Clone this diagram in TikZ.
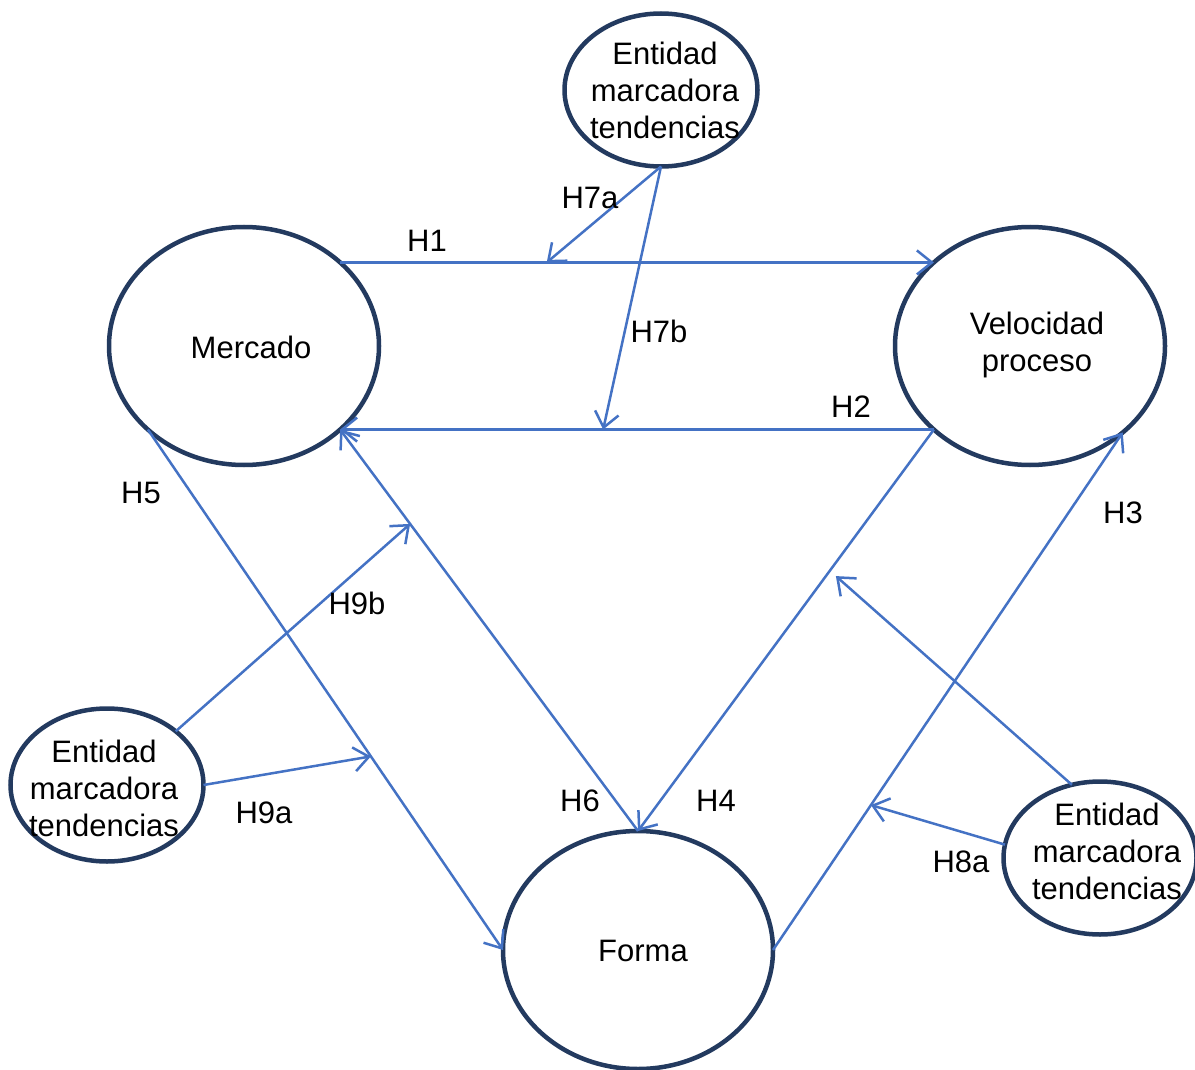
\documentclass[tikz,border=0pt]{standalone}
\usepackage{fontspec}
\setmainfont{Liberation Sans}
\usetikzlibrary{arrows.meta,shapes.geometric,calc}
\definecolor{conn}{RGB}{68,114,196}
\definecolor{rim}{RGB}{35,58,95}
\begin{document}
\begin{tikzpicture}[x=1pt,y=-1pt,
  oval/.style={ellipse, draw=rim, line width=4.5pt, inner sep=0pt, outer sep=0pt},
  big/.style={oval, minimum width=270pt, minimum height=238pt},
  small/.style={oval, minimum width=193pt, minimum height=153pt},
  txt/.style={font=\fontsize{31}{37}\selectfont, align=center, inner sep=0pt},
  lbl/.style={font=\fontsize{31}{37}\selectfont, inner sep=0pt},
  link/.style={draw=conn, line width=2.5pt, -{Straight Barb[length=15pt,width=24pt,line width=2.5pt]}}]
\useasboundingbox (0,0) rectangle (1195,1070);
% ellipses
\node[small] (top) at (661,90) {};
\node[big] (merc) at (244,346) {};
\node[big] (velo) at (1030,346) {};
\node[big] (forma) at (638,950) {};
\node[small] (lent) at (107,785) {};
\node[small] (rent) at (1100,858) {};
% texts
\node[txt] (toptxt) at (665,90) {Entidad\\marcadora\\tendencias};
\node[txt] (merctxt) at (251,347) {Mercado};
\node[txt] (velotxt) at (1037,345) {Velocidad\\proceso};
\node[txt] (formatxt) at (643,951) {Forma};
\node[txt] (lenttxt) at (104,788) {Entidad\\marcadora\\tendencias};
\node[txt] (renttxt) at (1107,851) {Entidad\\marcadora\\tendencias};
% connectors
\draw[link] (merc.41) -- (velo.139);
\draw[link] (velo.221) -- (merc.-41);
\coordinate (p7a) at ($(merc.41)!0.348!(velo.139)$);
\coordinate (p7b) at ($(velo.221)!0.557!(merc.-41)$);
\draw[link] (top.south) -- (p7a);
\draw[link] (top.south) -- (p7b);
\draw[link] (merc.221) -- (forma.west);
\draw[link] (forma.north) -- (merc.-41);
\draw[link] (velo.221) -- (forma.north);
\draw[link] (forma.east) -- (velo.-43);
\coordinate (p9b) at ($(merc.-41)!0.235!(forma.north)$);
\coordinate (p9a) at ($(merc.221)!0.628!(forma.west)$);
\coordinate (p8a) at ($(forma.east)!0.28!(velo.-43)$);
\coordinate (p8b) at ($(velo.221)!0.365!(forma.north)$);
\draw[link] (lent.38) -- (p9b);
\draw[link] (lent.east) -- (p9a);
\draw[link] (rent.172) -- (p8a);
\draw[link] (rent.111) -- ([xshift=10pt]p8b);
% labels
\node[lbl] (l7a) at (590,198) {H7a};
\node[lbl] (l1) at (427,241) {H1};
\node[lbl] (l7b) at (659,331) {H7b};
\node[lbl] (l2) at (851,407) {H2};
\node[lbl] (l5) at (141,493) {H5};
\node[lbl] (l3) at (1123,513) {H3};
\node[lbl] (l9b) at (357,603) {H9b};
\node[lbl] (l6) at (580,801) {H6};
\node[lbl] (l4) at (716,801) {H4};
\node[lbl] (l9a) at (264,813) {H9a};
\node[lbl] (l8a) at (961,862) {H8a};
\end{tikzpicture}
\end{document}
